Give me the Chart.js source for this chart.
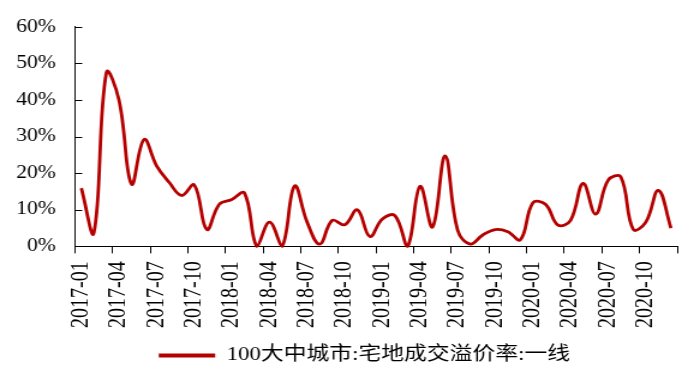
<!DOCTYPE html>
<html>
<head>
<meta charset="utf-8">
<script src="https://cdn.jsdelivr.net/npm/chart.js@4"></script>
<style>
  html, body { margin: 0; padding: 0; background: #fff; overflow: hidden; }
  /* the reference is stretched sideways, so the chart is drawn narrower and scaled */
  #chart { display: block; width: 578px; height: 375px; transform: scaleX(1.2007); transform-origin: 0 0; }
</style>
</head>
<body>
<canvas id="chart" width="578" height="375"></canvas>
<script>
const months = [
    '2017-01', '2017-02', '2017-03', '2017-04', '2017-05', '2017-06',
    '2017-07', '2017-08', '2017-09', '2017-10', '2017-11', '2017-12',
    '2018-01', '2018-02', '2018-03', '2018-04', '2018-05', '2018-06',
    '2018-07', '2018-08', '2018-09', '2018-10', '2018-11', '2018-12',
    '2019-01', '2019-02', '2019-03', '2019-04', '2019-05', '2019-06',
    '2019-07', '2019-08', '2019-09', '2019-10', '2019-11', '2019-12',
    '2020-01', '2020-02', '2020-03', '2020-04', '2020-05', '2020-06',
    '2020-07', '2020-08', '2020-09', '2020-10', '2020-11', '2020-12'
];

// 溢价率, in percent
const premiumRate = [
    15.9, 3.7, 47.5, 40.0, 17.0, 29.2, 22.0, 17.5, 13.9, 16.8, 4.6, 11.5,
    12.8, 14.6, 0.0, 6.6, 0.0, 16.5, 6.6, 0.6, 7.1, 5.9, 10.0, 2.7,
    7.5, 8.4, 0.0, 16.4, 5.3, 24.7, 4.4, 0.6, 3.1, 4.6, 4.0, 1.8,
    11.9, 11.5, 5.8, 7.1, 17.2, 8.8, 18.1, 19.0, 4.6, 6.6, 15.3, 5.0
];

const yTicks = [0, 10, 20, 30, 40, 50, 60];
const seriesName = '100大中城市:宅地成交溢价率:一线';

const FONT = "'Liberation Serif', 'Times New Roman', 'Noto Sans CJK SC', serif";
const RED = '#B50000';

// y axis tick marks point into the plot
const innerTicks = {
    id: 'innerTicks',
    afterDraw(chart) {
        const { ctx, chartArea, scales } = chart;
        ctx.save();
        ctx.strokeStyle = '#000';
        ctx.lineWidth = 1;
        yTicks.forEach(v => {
            const y = Math.round(scales.y.getPixelForValue(v)) + 0.5;
            ctx.beginPath();
            ctx.moveTo(chartArea.left, y);
            ctx.lineTo(chartArea.left + 6, y);
            ctx.stroke();
        });
        ctx.restore();
    }
};

// the legend sits a little right of the canvas centre in the reference
const legendShift = {
    id: 'legendShift',
    afterLayout(chart) {
        chart.legend.left += 30;
    }
};

new Chart(document.getElementById('chart'), {
    type: 'line',
    data: {
        labels: months,
        datasets: [
            {
                label: seriesName,
                data: premiumRate,
                borderColor: RED,
                backgroundColor: RED,
                borderWidth: 2.8,
                pointRadius: 0,
                tension: 0.4,
                fill: false,
                clip: false
            }
        ]
    },
    options: {
        responsive: false,
        animation: false,
        layout: { padding: { top: 12, left: 13, right: 14, bottom: 0 } },
        plugins: {
            tooltip: { enabled: false },
            legend: {
                position: 'bottom',
                labels: {
                    color: '#000',
                    font: { family: FONT, size: 19 },
                    boxWidth: 47,
                    boxHeight: 4,
                    padding: 10,
                    generateLabels: chart => [{
                        text: seriesName,
                        fillStyle: RED,
                        strokeStyle: RED,
                        lineWidth: 0,
                        datasetIndex: 0
                    }]
                }
            }
        },
        scales: {
            x: {
                offset: true,
                afterFit: scale => { scale.paddingLeft = 0; scale.paddingRight = 0; },
                border: { display: true, color: '#000', width: 1 },
                grid: {
                    offset: true,
                    drawOnChartArea: false,
                    drawTicks: true,
                    tickLength: 7,
                    color: ctx => (ctx.type !== 'tick' || ctx.index % 3 === 0) ? '#000' : 'rgba(0,0,0,0)'
                },
                ticks: {
                    autoSkip: false,
                    minRotation: 90,
                    maxRotation: 90,
                    padding: 8,
                    color: '#000',
                    font: { family: FONT, size: 20 },
                    callback: (value, index) => index % 3 === 0 ? months[index] : ''
                }
            },
            y: {
                min: 0,
                max: 60,
                afterFit: scale => { scale.width = 49.5; },
                border: { display: true, color: '#000', width: 1 },
                grid: { drawOnChartArea: false, drawTicks: false },
                ticks: {
                    stepSize: 10,
                    padding: 16,
                    color: '#000',
                    font: { family: FONT, size: 18 },
                    callback: v => v + '%'
                }
            }
        }
    },
    plugins: [innerTicks, legendShift]
});
</script>
</body>
</html>
